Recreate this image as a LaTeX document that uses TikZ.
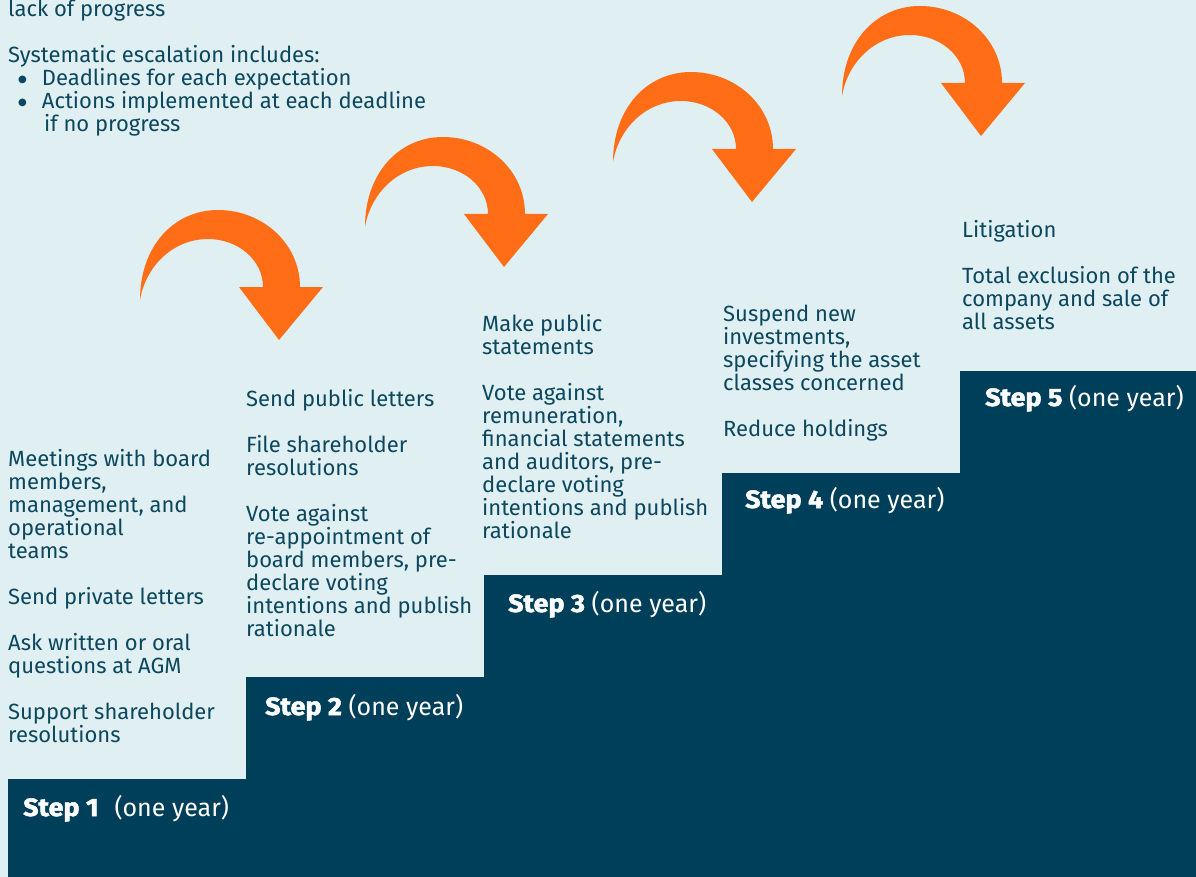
\documentclass[tikz,border=0pt]{standalone}
\usepackage{fontspec}
\setmainfont{Fira Sans}
\newfontfamily\symfont{DejaVu Sans}
\definecolor{paleblue}{HTML}{E0EFF2}
\definecolor{stairblue}{HTML}{003F5A}
\definecolor{inkblue}{HTML}{0B475E}
\definecolor{arroworange}{HTML}{FF6E17}
\newcommand{\firstline}{\rule{0pt}{17pt}}
\newcommand{\stepname}[1]{{\bfseries\addfontfeatures{FakeBold=2,FakeStretch=1.08}#1}}
\newcommand{\bigbullet}{\raisebox{2.5pt}{\symfont\fontsize{10}{10}\selectfont ●}}

\tikzset{
  bodytext/.style={anchor=north west, inner sep=0pt, align=left, text=inkblue,
    font=\fontsize{22}{23}\selectfont},
  steplabel/.style={anchor=base west, inner sep=0pt, text=white,
    font=\fontsize{25}{26}\selectfont},
  curlyarrow/.pic={
    \fill[arroworange] (-139,-40) .. controls (-139,-94) and (-105,-130) .. (-61,-130)
      .. controls (-17,-130) and (21,-97) .. (21,-53) -- (44,-53) -- (0,0) -- (-40,-53)
      -- (-16,-53) .. controls (-16,-80) and (-41,-101) .. (-71,-101)
      .. controls (-105,-101) and (-133,-75) .. (-139,-40) -- cycle;
  }
}

\begin{document}
\begin{tikzpicture}[x=1pt,y=-1pt]
	\useasboundingbox (0,0) rectangle (1196,877);
	\fill[paleblue] (0,0) rectangle (1196,877);
	\clip (0,0) rectangle (1196,877);

	% staircase
	\fill[stairblue] (8,877) -- (8,779) -- (246,779) -- (246,677) -- (484,677) -- (484,575)
		-- (722,575) -- (722,473) -- (960,473) -- (960,371) -- (1196,371) -- (1196,877) -- cycle;

	% arrows between steps
	\pic (arrowA) at (279,340) {curlyarrow};
	\pic (arrowB) at (504,267) {curlyarrow};
	\pic (arrowC) at (752,202) {curlyarrow};
	\pic (arrowD) at (981,136) {curlyarrow};

	% intro
	\node[bodytext] (intro) at (8,-1) {\firstline lack of progress\\[23pt]
		Systematic escalation includes:\\
		\hspace*{10pt}\bigbullet\hspace*{15pt}Deadlines for each expectation\\
		\hspace*{10pt}\bigbullet\hspace*{15pt}Actions implemented at each deadline\\
		\hspace*{36pt}if no progress};

	% actions per step
	\node[bodytext] (actionsA) at (8,449) {\firstline Meetings with board\\ members,\\ management, and\\ operational\\ teams\\[23pt]
		Send private letters\\[23pt]
		Ask written or oral\\ questions at AGM\\[23pt]
		Support shareholder\\ resolutions};
	\node[bodytext] (actionsB) at (246,389) {\firstline Send public letters\\[23pt]
		File shareholder\\ resolutions\\[23pt]
		Vote against\\ re-appointment of\\ board members, pre-\\ declare voting\\ intentions and publish\\ rationale};
	\node[bodytext] (actionsC) at (482,314) {\firstline Make public\\ statements\\[23pt]
		Vote against\\ remuneration,\\ financial statements\\ and auditors, pre-\\ declare voting\\ intentions and publish\\ rationale};
	\node[bodytext] (actionsD) at (723,304) {\firstline Suspend new\\ investments,\\ specifying the asset\\ classes concerned\\[23pt]
		Reduce holdings};
	\node[bodytext] (actionsE) at (962,220) {\firstline Litigation\\[23pt]
		Total exclusion of the\\ company and sale of\\ all assets};

	% step labels
	\node[steplabel] (stepA) at (23,816) {\stepname{Step 1}\hspace*{16pt}(one year)};
	\node[steplabel] (stepB) at (265,715) {\stepname{Step 2} (one year)};
	\node[steplabel] (stepC) at (508,612) {\stepname{Step 3} (one year)};
	\node[steplabel] (stepD) at (745,508) {\stepname{Step 4} (one year)};
	\node[steplabel] (stepE) at (985,406) {\stepname{Step 5} (one year)};
\end{tikzpicture}
\end{document}
